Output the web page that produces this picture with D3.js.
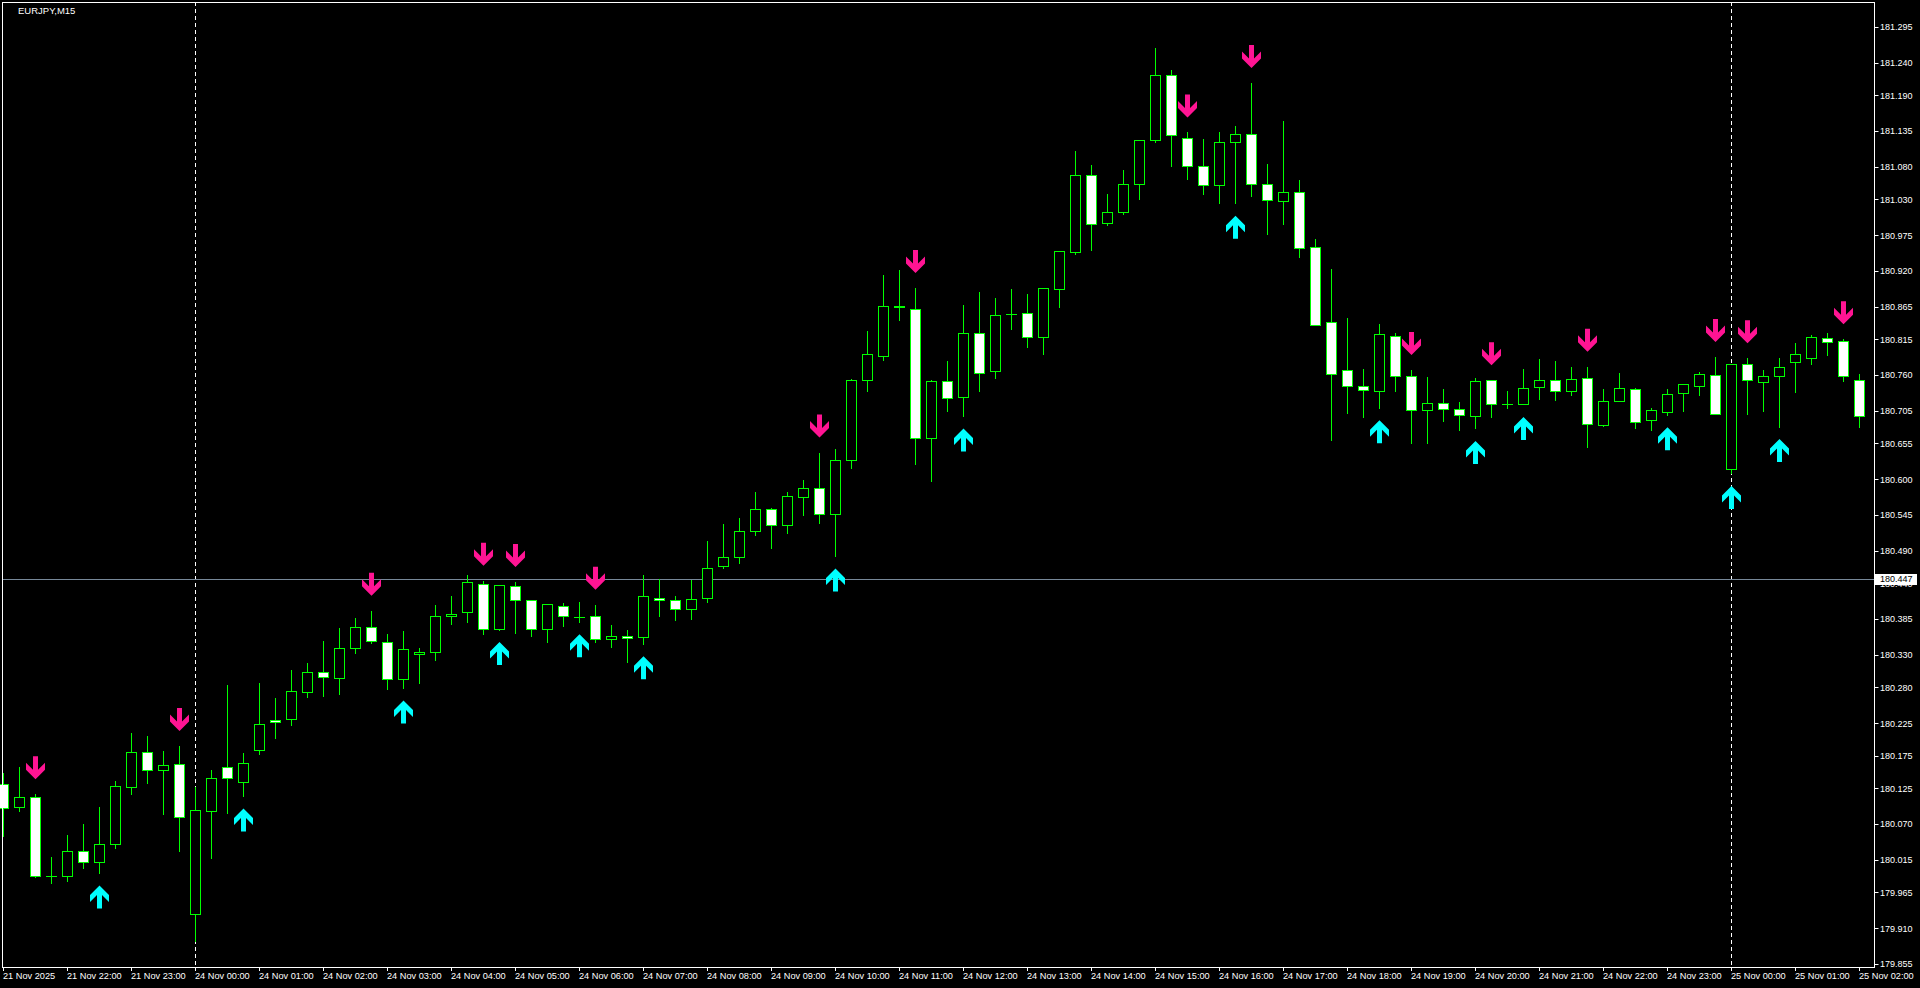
<!DOCTYPE html>
<html>
<head>
<meta charset="utf-8">
<script src="https://cdnjs.cloudflare.com/ajax/libs/d3/7.8.5/d3.min.js"></script>
<style>
  html, body { margin: 0; padding: 0; background: #000; overflow: hidden; }
  svg { display: block; }
  text { font-family: 'Liberation Sans', Arial, sans-serif; }
</style>
</head>
<body>
<svg id="chart" width="1920" height="988"></svg>
<script>
// EURJPY M15, 21 Nov 21:00 -> 25 Nov 02:00 (117 bars)
const symbolLabel = 'EURJPY,M15'

const opens = [
  180.132, 180.096, 180.111, 179.991, 179.991, 180.028, 180.012, 180.040, 180.127, 180.181,
  180.153, 180.163, 179.932, 180.090, 180.158, 180.135, 180.184, 180.230, 180.232, 180.273,
  180.304, 180.295, 180.341, 180.373, 180.350, 180.293, 180.332, 180.335, 180.390, 180.396,
  180.439, 180.370, 180.436, 180.415, 180.370, 180.405, 180.388, 180.390, 180.355, 180.359,
  180.358, 180.417, 180.414, 180.400, 180.417, 180.466, 180.481, 180.520, 180.555, 180.529,
  180.573, 180.586, 180.547, 180.629, 180.753, 180.790, 180.866, 180.861, 180.663, 180.751,
  180.726, 180.824, 180.767, 180.854, 180.855, 180.818, 180.893, 180.949, 181.067, 180.994,
  181.010, 181.053, 181.122, 181.222, 181.124, 181.081, 181.052, 181.119, 181.130, 181.053,
  181.027, 181.041, 180.957, 180.842, 180.768, 180.744, 180.735, 180.820, 180.758, 180.706,
  180.717, 180.708, 180.697, 180.752, 180.716, 180.716, 180.741, 180.752, 180.735, 180.755,
  180.683, 180.720, 180.738, 180.691, 180.704, 180.732, 180.744, 180.760, 180.615, 180.777,
  180.749, 180.758, 180.780, 180.787, 180.817, 180.812, 180.752
]
const highs = [
  180.148, 180.158, 180.116, 180.019, 180.053, 180.070, 180.096, 180.137, 180.210, 180.206,
  180.183, 180.190, 180.127, 180.153, 180.284, 180.179, 180.287, 180.264, 180.307, 180.318,
  180.352, 180.372, 180.387, 180.398, 180.362, 180.367, 180.341, 180.407, 180.421, 180.453,
  180.444, 180.438, 180.442, 180.415, 180.408, 180.410, 180.411, 180.407, 180.376, 180.368,
  180.453, 180.447, 180.421, 180.445, 180.505, 180.531, 180.541, 180.580, 180.556, 180.580,
  180.599, 180.641, 180.647, 180.754, 180.828, 180.914, 180.922, 180.894, 180.753, 180.782,
  180.868, 180.888, 180.878, 180.893, 180.885, 180.894, 180.950, 181.105, 181.083, 181.039,
  181.075, 181.121, 181.263, 181.229, 181.133, 181.123, 181.133, 181.143, 181.209, 181.085,
  181.151, 181.060, 180.969, 180.923, 180.848, 180.770, 180.839, 180.825, 180.768, 180.757,
  180.739, 180.719, 180.756, 180.752, 180.736, 180.770, 180.785, 180.781, 180.773, 180.773,
  180.739, 180.763, 180.740, 180.709, 180.739, 180.746, 180.765, 180.788, 180.777, 180.786,
  180.768, 180.786, 180.810, 180.821, 180.824, 180.815, 180.761
]
const lows = [
  180.052, 180.090, 179.988, 179.979, 179.982, 180.002, 179.995, 180.033, 180.116, 180.133,
  180.086, 180.028, 179.890, 180.018, 180.087, 180.113, 180.178, 180.202, 180.222, 180.266,
  180.267, 180.270, 180.333, 180.348, 180.278, 180.279, 180.287, 180.322, 180.378, 180.381,
  180.362, 180.369, 180.364, 180.359, 180.350, 180.375, 180.381, 180.350, 180.342, 180.319,
  180.347, 180.390, 180.384, 180.385, 180.412, 180.464, 180.472, 180.514, 180.494, 180.517,
  180.545, 180.532, 180.482, 180.617, 180.735, 180.783, 180.844, 180.624, 180.598, 180.705,
  180.697, 180.735, 180.755, 180.831, 180.803, 180.792, 180.864, 180.946, 180.953, 180.990,
  181.008, 181.031, 181.119, 181.082, 181.061, 181.038, 181.024, 181.024, 181.035, 180.977,
  180.993, 180.941, 180.837, 180.661, 180.702, 180.696, 180.710, 180.735, 180.656, 180.655,
  180.690, 180.675, 180.678, 180.696, 180.709, 180.715, 180.724, 180.721, 180.729, 180.650,
  180.682, 180.720, 180.678, 180.675, 180.699, 180.705, 180.730, 180.700, 180.609, 180.701,
  180.705, 180.681, 180.734, 180.777, 180.791, 180.751, 180.680
]
const closes = [
  180.095, 180.111, 179.991, 179.991, 180.028, 180.012, 180.040, 180.129, 180.181, 180.153,
  180.161, 180.081, 180.092, 180.141, 180.141, 180.164, 180.224, 180.227, 180.275, 180.304,
  180.296, 180.341, 180.373, 180.352, 180.293, 180.339, 180.335, 180.390, 180.393, 180.442,
  180.370, 180.438, 180.415, 180.370, 180.408, 180.390, 180.388, 180.355, 180.359, 180.356,
  180.421, 180.414, 180.400, 180.416, 180.463, 180.480, 180.520, 180.555, 180.529, 180.574,
  180.586, 180.547, 180.629, 180.752, 180.792, 180.866, 180.864, 180.663, 180.751, 180.725,
  180.825, 180.764, 180.852, 180.854, 180.818, 180.894, 180.950, 181.067, 180.993, 181.010,
  181.053, 181.121, 181.222, 181.129, 181.081, 181.052, 181.119, 181.130, 181.053, 181.029,
  181.041, 180.956, 180.837, 180.761, 180.744, 180.737, 180.823, 180.758, 180.706, 180.717,
  180.708, 180.698, 180.751, 180.715, 180.716, 180.740, 180.752, 180.735, 180.754, 180.685,
  180.720, 180.740, 180.688, 180.706, 180.731, 180.746, 180.761, 180.700, 180.777, 180.752,
  180.758, 180.772, 180.792, 180.818, 180.811, 180.758, 180.697
]

// indicator signals (bar indexes)
const sellSignals = [2, 11, 23, 30, 32, 37, 51, 57, 74, 78, 88, 93, 99, 107, 109, 115]
const buySignals = [6, 15, 25, 31, 36, 40, 52, 60, 77, 86, 92, 95, 104, 108, 111]

// day separators (bar indexes of 24 Nov 00:00 and 25 Nov 00:00)
const daySeparators = [12, 108]

const timeLabels = [
  '21 Nov 2025', '21 Nov 22:00', '21 Nov 23:00',
  '24 Nov 00:00', '24 Nov 01:00', '24 Nov 02:00', '24 Nov 03:00', '24 Nov 04:00',
  '24 Nov 05:00', '24 Nov 06:00', '24 Nov 07:00', '24 Nov 08:00', '24 Nov 09:00',
  '24 Nov 10:00', '24 Nov 11:00', '24 Nov 12:00', '24 Nov 13:00', '24 Nov 14:00',
  '24 Nov 15:00', '24 Nov 16:00', '24 Nov 17:00', '24 Nov 18:00', '24 Nov 19:00',
  '24 Nov 20:00', '24 Nov 21:00', '24 Nov 22:00', '24 Nov 23:00',
  '25 Nov 00:00', '25 Nov 01:00', '25 Nov 02:00'
]
const barsPerLabel = 4

const priceTicks = [
  181.295, 181.240, 181.190, 181.135, 181.080, 181.030, 180.975, 180.920, 180.865,
  180.815, 180.760, 180.705, 180.655, 180.600, 180.545, 180.490, 180.440, 180.385,
  180.330, 180.280, 180.225, 180.175, 180.125, 180.070, 180.015, 179.965, 179.910, 179.855
]
const bidPrice = 180.447

const margin = { top: 2, left: 2, right: 1874, bottom: 967 }
const svg = d3.select('#chart')
svg.append('rect').attr('width', 1920).attr('height', 988).attr('fill', '#000')

const bars = opens.map((o, i) => ({ i: i, o: o, h: highs[i], l: lows[i], c: closes[i] }))

const x = d3.scaleLinear().domain([0, bars.length - 1]).range([3, 1859])
const y = d3.scaleLinear().domain([179.855, 181.295]).range([964, 27])

const plot = svg.append('g')

// period separators
plot.selectAll('line.sep')
  .data(daySeparators)
  .enter()
  .append('line')
  .attr('x1', d => Math.round(x(d)) + 0.5)
  .attr('x2', d => Math.round(x(d)) + 0.5)
  .attr('y1', margin.top)
  .attr('y2', margin.bottom)
  .attr('stroke', '#fff')
  .attr('stroke-dasharray', '4,3')

// bid line
plot.append('line')
  .attr('x1', margin.left)
  .attr('x2', margin.right)
  .attr('y1', Math.round(y(bidPrice)) + 0.5)
  .attr('y2', Math.round(y(bidPrice)) + 0.5)
  .attr('stroke', '#778899')

// candles
const candle = plot.selectAll('g.candle')
  .data(bars)
  .enter()
  .append('g')
  .attr('transform', d => 'translate(' + Math.round(x(d.i)) + ',0)')

candle.append('line')
  .attr('x1', 0.5).attr('x2', 0.5)
  .attr('y1', d => Math.round(y(d.h)))
  .attr('y2', d => Math.round(y(d.l)) + 1)
  .attr('stroke', '#00ff00')

candle.each(function (d) {
  const g = d3.select(this)
  const yo = Math.round(y(d.o))
  const yc = Math.round(y(d.c))
  if (yo === yc) {
    g.append('line')
      .attr('x1', -5).attr('x2', 6)
      .attr('y1', yo + 0.5).attr('y2', yo + 0.5)
      .attr('stroke', '#00ff00')
  } else {
    g.append('rect')
      .attr('x', -4.5)
      .attr('width', 10)
      .attr('y', Math.min(yo, yc) + 0.5)
      .attr('height', Math.abs(yo - yc))
      .attr('fill', d.c > d.o ? '#000' : '#fff')
      .attr('stroke', '#00ff00')
  }
})

// signal arrows
const downArrow = 'M0,0 L-9.5,-9.5 L-9.5,-16.5 L-2.5,-9.5 L-2.5,-23 L2.5,-23 L2.5,-9.5 L9.5,-16.5 L9.5,-9.5 Z'

plot.selectAll('path.sell')
  .data(sellSignals)
  .enter()
  .append('path')
  .attr('d', downArrow)
  .attr('transform', d => 'translate(' + (Math.round(x(d)) + 0.5) + ',' + (y(highs[d]) - 15) + ')')
  .attr('fill', '#ff1493')

plot.selectAll('path.buy')
  .data(buySignals)
  .enter()
  .append('path')
  .attr('d', downArrow)
  .attr('transform', d => 'translate(' + (Math.round(x(d)) + 0.5) + ',' + (y(lows[d]) + 12.5) + ') scale(1,-1)')
  .attr('fill', '#00ffff')

// frame
svg.append('rect')
  .attr('x', margin.left + 0.5)
  .attr('y', margin.top + 0.5)
  .attr('width', margin.right - margin.left)
  .attr('height', margin.bottom - margin.top)
  .attr('fill', 'none')
  .attr('stroke', '#fff')

// price axis
const yAxis = svg.append('g')
yAxis.selectAll('line')
  .data(priceTicks)
  .enter()
  .append('line')
  .attr('x1', margin.right + 0.5)
  .attr('x2', margin.right + 4.5)
  .attr('y1', d => Math.round(y(d)) + 0.5)
  .attr('y2', d => Math.round(y(d)) + 0.5)
  .attr('stroke', '#fff')
yAxis.selectAll('text')
  .data(priceTicks)
  .enter()
  .append('text')
  .attr('x', 1880)
  .attr('y', d => y(d) + 3.3)
  .attr('fill', '#fff')
  .attr('font-size', '9px')
  .text(d => d.toFixed(3))

// bid label
svg.append('rect')
  .attr('x', 1875).attr('y', Math.round(y(bidPrice)) - 5)
  .attr('width', 42).attr('height', 11)
  .attr('fill', '#fff')
svg.append('text')
  .attr('x', 1880)
  .attr('y', y(bidPrice) + 3.5)
  .attr('fill', '#000')
  .attr('font-size', '9px')
  .text(bidPrice.toFixed(3))

// time axis
const xAxis = svg.append('g')
xAxis.selectAll('line')
  .data(timeLabels)
  .enter()
  .append('line')
  .attr('x1', (d, k) => Math.round(x(k * barsPerLabel)) + 0.5)
  .attr('x2', (d, k) => Math.round(x(k * barsPerLabel)) + 0.5)
  .attr('y1', margin.bottom)
  .attr('y2', margin.bottom + 4)
  .attr('stroke', '#fff')
xAxis.selectAll('text')
  .data(timeLabels)
  .enter()
  .append('text')
  .attr('x', (d, k) => Math.round(x(k * barsPerLabel)))
  .attr('y', 979)
  .attr('fill', '#fff')
  .attr('font-size', '9.2px')
  .text(d => d)

// symbol label
svg.append('text')
  .attr('x', 18)
  .attr('y', 14)
  .attr('fill', '#fff')
  .attr('font-size', '9.5px')
  .text(symbolLabel)
</script>
</body>
</html>
